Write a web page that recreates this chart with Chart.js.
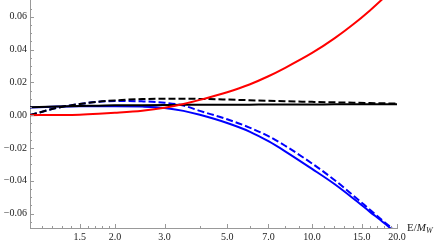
<!DOCTYPE html>
<html>
<head>
<meta charset="utf-8">
<script src="https://cdn.jsdelivr.net/npm/chart.js@4.4.0/dist/chart.umd.min.js"></script>
<style>
html, body { margin: 0; padding: 0; background: #fff; }
#wrap { width: 436px; height: 245px; }
</style>
</head>
<body>
<div id="wrap"><canvas id="chart" width="436" height="245"></canvas></div>
<script>
// E/M_W sample points and the five curves
const energies    = [1, 1.25, 1.5, 1.75, 2, 2.5, 3, 3.5, 4, 5, 6, 7, 8, 10, 12, 14, 16, 18, 20]
const redSolid    = [0, 0.0001, 0.0003, 0.0008, 0.0014, 0.0027, 0.0045, 0.0068, 0.0093, 0.0140, 0.0187, 0.0237, 0.0287, 0.0379, 0.0468, 0.0554, 0.0637, 0.0717, 0.0793]
const blackSolid  = [0.0048, 0.0053, 0.0056, 0.0058, 0.0060, 0.0061, 0.0062, 0.0063, 0.0063, 0.0064, 0.0064, 0.0065, 0.0065, 0.0065, 0.0066, 0.0066, 0.0066, 0.0066, 0.0066]
const blackDashed = [0, 0.0045, 0.0068, 0.0082, 0.0090, 0.0098, 0.0100, 0.0100, 0.0099, 0.0095, 0.0091, 0.0088, 0.0085, 0.0081, 0.0078, 0.0076, 0.0074, 0.0072, 0.0071]
const blueSolid   = [0.0046, 0.0052, 0.0055, 0.0055, 0.0055, 0.0052, 0.0044, 0.0026, 0.0002, -0.0048, -0.0100, -0.0159, -0.0219, -0.0328, -0.0420, -0.0508, -0.0588, -0.0658, -0.0723]
const blueDashed  = [0, 0.0045, 0.0068, 0.0082, 0.0086, 0.0084, 0.0076, 0.0058, 0.0026, -0.0025, -0.0076, -0.0128, -0.0185, -0.0295, -0.0395, -0.0490, -0.0575, -0.0650, -0.0714]

const xMajor = [1.5, 2, 3, 5, 7, 10, 15, 20]
const xMinor = [1.1, 1.2, 1.3, 1.4, 1.6, 1.7, 1.8, 1.9, 4, 6, 8, 9, 11, 12, 13, 14, 16, 17, 18, 19]
const yMajor = [-0.06, -0.04, -0.02, 0, 0.02, 0.04, 0.06]
const yMinor = [-0.065, -0.055, -0.05, -0.045, -0.035, -0.03, -0.025, -0.015, -0.01, -0.005,
                0.005, 0.01, 0.015, 0.025, 0.03, 0.035, 0.045, 0.05, 0.055, 0.065]

const axisColor = '#999'
const textColor = '#222'
const font = { family: 'Liberation Serif', size: 10 }

const isIn = (list, v) => list.some(m => Math.abs(m - v) < 1e-9)
const points = ys => energies.map((e, i) => ({ x: e, y: ys[i] }))

const line = (data, color, dashed) => ({
    data: points(data),
    borderColor: color,
    borderWidth: 2,
    borderDash: dashed ? [7, 3] : [],
    pointRadius: 0,
    fill: false,
    cubicInterpolationMode: 'monotone'
})

const inwardTicks = {
    id: 'inwardTicks',
    afterDraw(chart) {
        const { ctx, chartArea, scales: { x, y } } = chart
        ctx.save()
        ctx.strokeStyle = axisColor
        ctx.lineWidth = 1
        ctx.beginPath()
        x.ticks.forEach(t => {
            const px = Math.round(x.getPixelForValue(t.value)) + 0.5
            const len = isIn(xMajor, t.value) ? 4 : 2
            ctx.moveTo(px, chartArea.bottom)
            ctx.lineTo(px, chartArea.bottom - len)
        })
        y.ticks.forEach(t => {
            const py = Math.round(y.getPixelForValue(t.value)) + 0.5
            const len = isIn(yMajor, t.value) ? 4 : 2
            ctx.moveTo(chartArea.left, py)
            ctx.lineTo(chartArea.left + len, py)
        })
        ctx.stroke()

        // axis label E/M_W
        ctx.fillStyle = textColor
        ctx.textBaseline = 'alphabetic'
        let tx = chartArea.right + 10
        const ty = chartArea.bottom + 3
        ctx.font = '11px "Liberation Serif"'
        ctx.fillText('E/', tx, ty)
        tx += ctx.measureText('E/').width
        ctx.font = 'italic 11px "Liberation Serif"'
        ctx.fillText('M', tx, ty)
        tx += ctx.measureText('M').width
        ctx.font = 'italic 8px "Liberation Serif"'
        ctx.fillText('W', tx, ty + 2)
        ctx.restore()
    }
}

new Chart(document.getElementById('chart'), {
    type: 'line',
    data: {
        datasets: [
            line(redSolid, '#ff0000', false),
            line(blackSolid, '#000000', false),
            line(blackDashed, '#000000', true),
            line(blueSolid, '#0000ff', false),
            line(blueDashed, '#0000ff', true)
        ]
    },
    options: {
        responsive: false,
        devicePixelRatio: 1,
        animation: false,
        layout: { padding: { left: 0, right: 39, top: 0, bottom: 0 } },
        plugins: { legend: { display: false }, tooltip: { enabled: false } },
        scales: {
            x: {
                type: 'logarithmic',
                min: 1,
                max: 20,
                afterBuildTicks: scale => {
                    scale.ticks = [...xMinor, ...xMajor].sort((a, b) => a - b).map(v => ({ value: v }))
                },
                afterFit: scale => {
                    scale.height = 17
                    scale.paddingLeft = 0
                    scale.paddingRight = 0
                },
                grid: { display: false, drawTicks: false },
                border: { display: true, color: axisColor, width: 1 },
                ticks: {
                    autoSkip: false,
                    maxRotation: 0,
                    padding: 3,
                    color: textColor,
                    font,
                    callback: v => isIn(xMajor, v) ? v.toFixed(1) : ''
                }
            },
            y: {
                type: 'linear',
                min: -0.0688,
                max: 0.0702,
                afterBuildTicks: scale => {
                    scale.ticks = [...yMinor, ...yMajor].sort((a, b) => a - b).map(v => ({ value: v }))
                },
                afterFit: scale => {
                    scale.width = 30
                    scale.paddingTop = 0
                    scale.paddingBottom = 0
                },
                grid: { display: false, drawTicks: false },
                border: { display: true, color: axisColor, width: 1 },
                ticks: {
                    autoSkip: false,
                    padding: 3,
                    color: textColor,
                    font,
                    callback: v => isIn(yMajor, v) ? v.toFixed(2).replace('-', '\u2212') : ''
                }
            }
        }
    },
    plugins: [inwardTicks]
})
</script>
</body>
</html>
